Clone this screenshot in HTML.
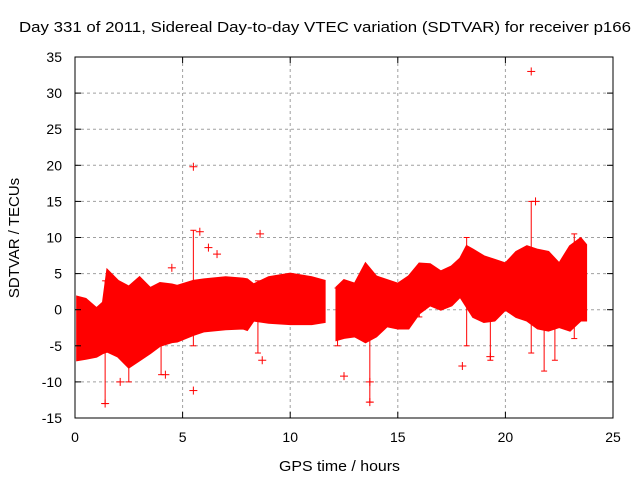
<!DOCTYPE html>
<html><head><meta charset="utf-8"><style>
body{margin:0;background:#fff}
svg{display:block;font-family:"Liberation Sans",sans-serif}
</style></head><body>
<svg id="chart" width="640" height="480" viewBox="0 0 640 480">
<rect width="640" height="480" fill="#fff"/>
<text x="19" y="32" font-size="15" textLength="612" lengthAdjust="spacingAndGlyphs">Day 331 of 2011, Sidereal Day-to-day VTEC variation (SDTVAR) for receiver p166</text>
<g id="grid"></g>
<g id="data"></g>
<rect x="75" y="57" width="538" height="361" fill="none" stroke="#000" stroke-width="1"/>
<g id="ticks"></g>
<text x="279" y="471" font-size="15" textLength="121" lengthAdjust="spacingAndGlyphs">GPS time / hours</text>
<text transform="translate(19,238) rotate(-90)" font-size="15" text-anchor="middle">SDTVAR / TECUs</text>
</svg>
<script>
const xTicks=[0,5,10,15,20,25];
const yTicks=[-15,-10,-5,0,5,10,15,20,25,30,35];
// segment 1 envelope: hours, upper, lower
const seg1Hours=[0.1,0.5,1.0,1.3,1.5,2.0,2.5,3.0,3.5,3.95,4.5,4.75,5.5,6.0,7.0,7.8,8.0,8.3,9.0,10,11,11.6];
const seg1Upper=[1.8,1.5,0.2,1.0,5.5,4.0,3.2,4.5,3.0,3.7,3.5,3.3,4.0,4.2,4.5,4.3,4.2,3.5,4.5,5.0,4.5,4.0];
const seg1Lower=[-7.0,-6.8,-6.5,-6.0,-5.8,-6.5,-8.0,-7.0,-6.0,-5.0,-4.5,-4.4,-3.5,-3.0,-2.7,-2.6,-2.8,-1.5,-1.8,-2.0,-2.0,-1.7];
const seg2Hours=[12.15,12.5,13.0,13.5,14,14.5,15,15.5,16,16.5,17,17.5,17.9,18.2,18.5,19,19.5,20,20.5,21,21.5,22,22.5,23,23.5,23.75];
const seg2Upper=[3.1,4.1,3.6,6.4,4.6,4.1,3.6,4.6,6.4,6.3,5.3,6.0,7.1,8.8,8.3,7.4,6.9,6.4,8.0,8.8,8.3,8.0,6.4,8.8,9.9,9.0];
const seg2Lower=[-4.2,-3.9,-3.7,-4.5,-3.7,-2.3,-2.6,-2.6,-0.5,0.6,0.0,0.6,1.8,0.4,-1.0,-1.7,-1.5,0.0,-1.0,-1.5,-2.6,-2.9,-2.4,-2.9,-1.5,-1.5];
const spikeHours=[1.4,5.5,13.7,21.2,19.3,2.5,21.8,22.3,18.2,12.2,8.5,4.0,16.0,23.2];
const spikeLow=[-13,-5,-12.8,-6,-7,-10,-8.5,-7,-5,-5,-6,-9,-1,-4];
const spikeHigh=[4,11,2,15,4,-5,3,3,10,3,4,-3,6,10.5];
const markHours=[5.5,21.2,5.8,6.2,6.6,8.6,4.5,5.5,4.2,12.5,13.7,13.7,18,8.7,1.4,19.3,21.4,2.1];
const markValues=[19.8,33,10.8,8.6,7.7,10.5,5.8,-11.2,-9,-9.2,-12.8,-10,-7.8,-7,-13,-6.5,15,-10];

const X=h=>75+h*538/25;
const Y=v=>57+(35-v)*361/50;
const NS="http://www.w3.org/2000/svg";
function mk(t,parent,attrs){const e=document.createElementNS(NS,t);for(const k in attrs)e.setAttribute(k,attrs[k]);parent.appendChild(e);return e;}
const grid=document.getElementById('grid'),ticks=document.getElementById('ticks'),data=document.getElementById('data');
xTicks.forEach(t=>{
  if(t>0&&t<25){const l=mk('line',grid,{x1:X(t),x2:X(t),y1:57,y2:418,stroke:'#a0a0a0','stroke-dasharray':'3,3'});
  
  }
  mk('line',ticks,{x1:X(t),x2:X(t),y1:418,y2:412,stroke:'#000'});
  mk('line',ticks,{x1:X(t),x2:X(t),y1:57,y2:63,stroke:'#000'});
  const tx=mk('text',ticks,{x:X(t),y:442,'font-size':14,'text-anchor':'middle'});tx.textContent=t;
  
  
});
yTicks.forEach(t=>{
  if(t>-15&&t<35){const l=mk('line',grid,{x1:75,x2:613,y1:Y(t),y2:Y(t),stroke:'#a0a0a0','stroke-dasharray':'3,3'});
  
  }
  mk('line',ticks,{x1:75,x2:81,y1:Y(t),y2:Y(t),stroke:'#000'});
  mk('line',ticks,{x1:613,x2:607,y1:Y(t),y2:Y(t),stroke:'#000'});
  const tx=mk('text',ticks,{x:62,y:Y(t)+5,'font-size':14,'text-anchor':'end'});tx.textContent=t;
  
  
});
function band(hs,up,lo,name){
  const pts=[];
  hs.forEach((h,i)=>pts.push(X(h)+','+Y(up[i])));
  for(let i=hs.length-1;i>=0;i--)pts.push(X(hs[i])+','+Y(lo[i]));
  const p=mk('polygon',data,{points:pts.join(' '),fill:'#ff0000',stroke:'#ff0000','stroke-width':2});
  
  
}
band(seg1Hours,seg1Upper,seg1Lower,'data-band-1');
band(seg2Hours,seg2Upper,seg2Lower,'data-band-2');
spikeHours.forEach((h,i)=>{
  const g=mk('g',data,{stroke:'#ff0000','stroke-width':1});
  
  
  mk('line',g,{x1:X(h),x2:X(h),y1:Y(spikeLow[i]),y2:Y(spikeHigh[i])});
  mk('line',g,{x1:X(h)-3,x2:X(h)+3,y1:Y(spikeLow[i]),y2:Y(spikeLow[i])});
  mk('line',g,{x1:X(h)-3,x2:X(h)+3,y1:Y(spikeHigh[i]),y2:Y(spikeHigh[i])});
});
markHours.forEach((h,i)=>{
  const g=mk('g',data,{stroke:'#ff0000','stroke-width':1});
  
  
  const x=X(h),y=Y(markValues[i]);
  mk('line',g,{x1:x-4,x2:x+4,y1:y,y2:y});
  mk('line',g,{x1:x,x2:x,y1:y-4,y2:y+4});
});
</script>
</body></html>
